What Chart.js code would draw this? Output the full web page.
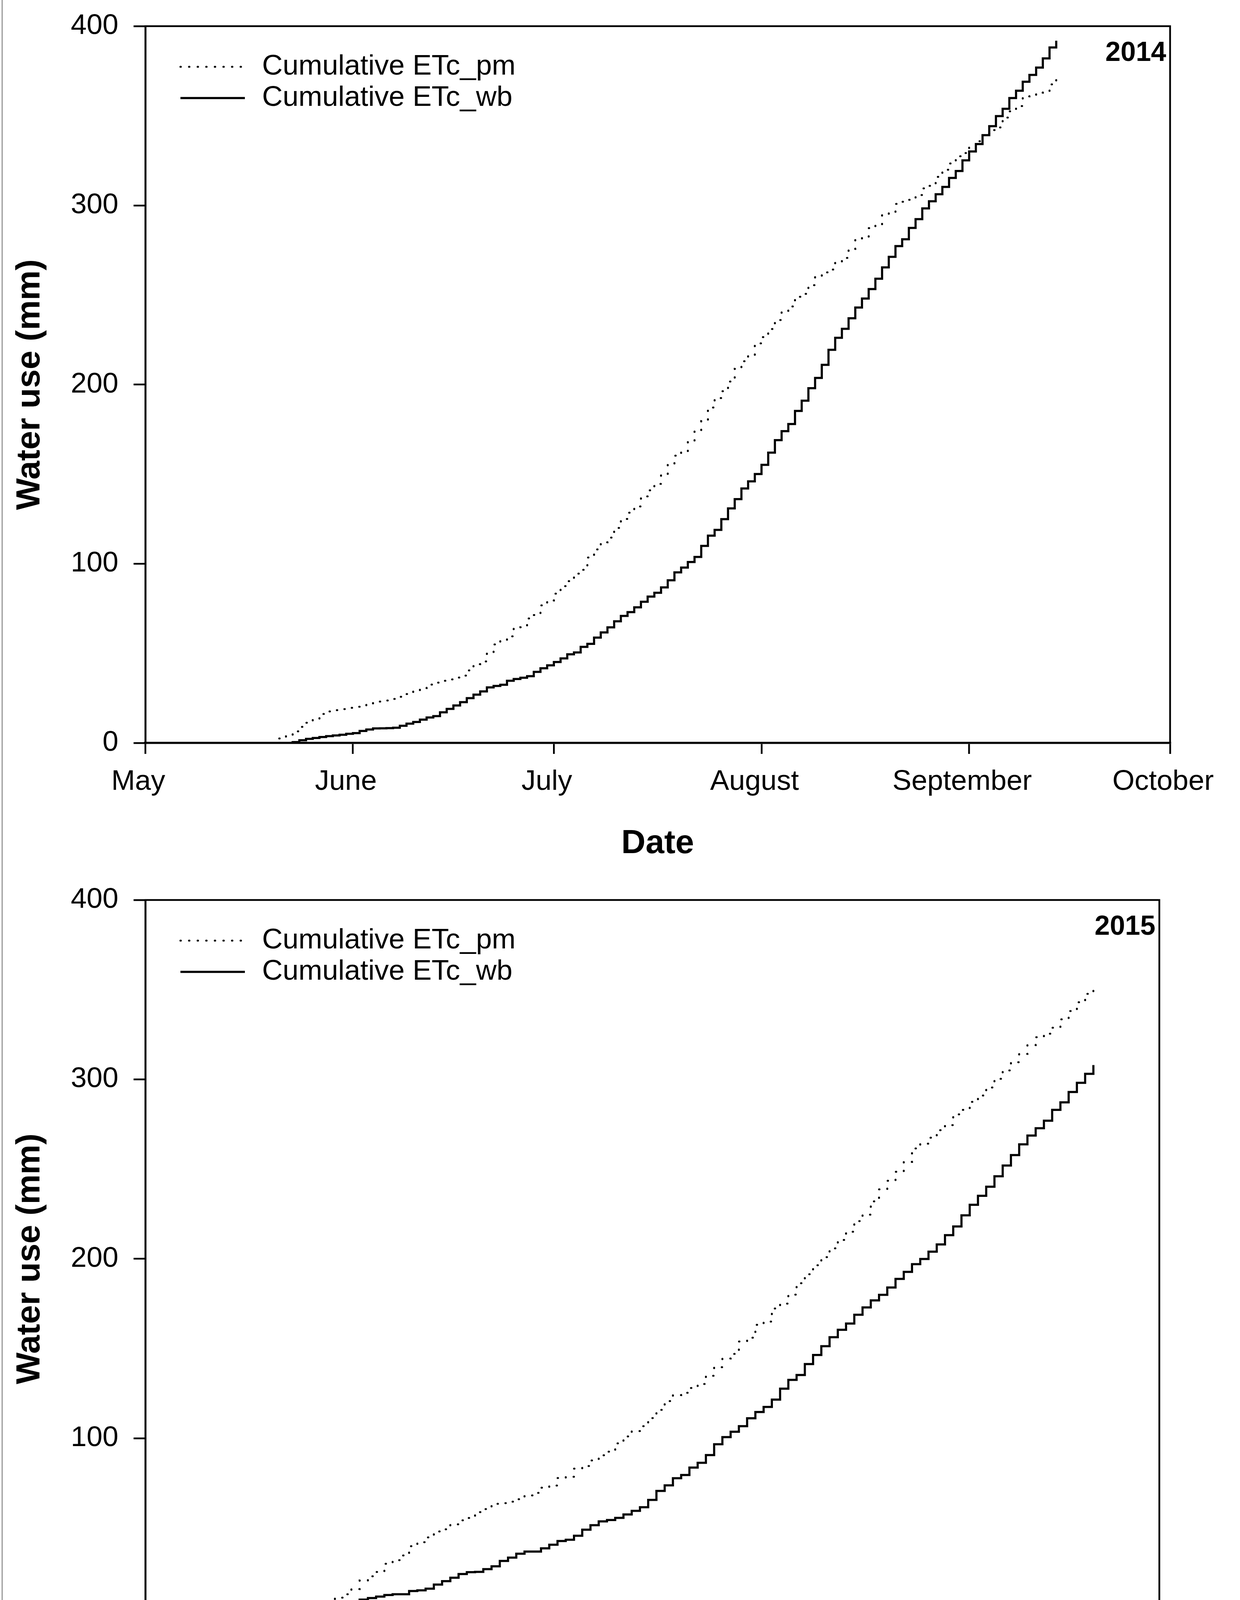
<!DOCTYPE html>
<html><head><meta charset="utf-8">
<script src="https://cdn.jsdelivr.net/npm/chart.js@4.4.1/dist/chart.umd.min.js"></script>
<style>
html,body{margin:0;padding:0;background:#fff;}
body{width:3175px;height:4473px;position:relative;overflow:hidden;}
#c1{position:absolute;left:0;top:0;}
#c2{position:absolute;left:0;top:2240px;}
#edge{position:absolute;left:4px;top:0;width:3px;height:4473px;background:#9a9a9a;}
</style></head><body>
<div id="edge"></div>
<canvas id="c1" width="3175" height="2240"></canvas>
<canvas id="c2" width="3175" height="2233"></canvas>
<script>
// ---- data (x = days since May 1) ----
const monthDays2014 = [0, 31, 61, 92, 123, 153];
const monthLabels2014 = ['May', 'June', 'July', 'August', 'September', 'October'];
const monthDays2015 = [0, 31, 61, 92, 123];
const monthLabels2015 = ['May', 'June', 'July', 'August', 'September'];
const yTicks = [0, 100, 200, 300, 400];
const seriesLabels = ['Cumulative ETc_pm', 'Cumulative ETc_wb'];

const start2014 = 20;
const pm2014 = [
  2.5, 4, 6.5, 9, 11.3, 13.5, 16.2, 17.6, 18.3, 18.9,
  19.6, 20.2, 21, 21.6, 22.4, 23.1, 23.7, 24.6, 25.8, 27.3,
  28.7, 30.6, 32.6, 33.7, 34.7, 35.5, 36.5, 37.6, 40.5, 44,
  45.5, 50.5, 55, 57, 59.5, 63.8, 64.6, 69.5, 71.4, 76.8,
  79.5, 83.3, 87.5, 90.3, 94.5, 96.6, 103.5, 108, 112, 114.6,
  120, 125, 128.5, 132, 137.6, 141, 144.6, 149.8, 155.5, 160.3,
  162.4, 168, 174, 179.6, 187.2, 192.5, 196.3, 201.7, 208.8, 213,
  216.4, 223, 226.5, 231, 236, 241, 243.6, 249, 250.6, 255.5,
  260.6, 262.6, 264.2, 268.7, 270.7, 275.7, 281, 282.2, 287.3, 288.7,
  294.6, 295.8, 300.8, 302, 303.1, 305.8, 309.5, 310.9, 315.9, 319.9,
  323.4, 327.4, 329.2, 333, 335.8, 339.5, 342, 343.5, 349, 352.5,
  355.4, 360.8, 361.7, 362.9, 363.8, 367.5, 370.5
];
const wb2014 = [
  0, 0, 0.5, 1.5, 2.3, 2.8, 3.3, 3.8, 4.2, 4.6,
  5.1, 5.5, 6.7, 7.5, 8.1, 8.2, 8.3, 8.5, 9.6, 10.8,
  11.7, 13, 14.2, 15, 17.1, 19, 20.9, 22.8, 25, 27,
  28.8, 31, 31.8, 32.5, 34.7, 35.7, 36.4, 37.3, 39.7, 41.7,
  43.3, 45.2, 47.2, 49.5, 50.5, 53.6, 55.3, 58.8, 61.7, 64.5,
  67.9, 70.9, 73, 75.7, 78.8, 81.7, 83.8, 86.8, 90.8, 95.2,
  97.9, 101, 103.8, 110, 115.7, 118.9, 124.9, 130.9, 136.1, 142,
  146, 150.1, 155.2, 162, 169, 174, 178, 185.3, 191, 198,
  203.7, 211, 219.4, 226.1, 231.1, 237, 243, 248, 253.3, 259.1,
  265.4, 271.3, 277.3, 281.1, 287.4, 292.3, 298.3, 302.3, 306.2, 310.3,
  315.3, 319.2, 325.1, 330.1, 334.2, 339.2, 344.2, 349.8, 353.9, 359.9,
  364, 369, 372.8, 376.9, 382, 388.1, 391.9
];

const start2015 = 19;
const pm2015 = [
  0, 2, 6.5, 9, 11.1, 13, 15.9, 20.7, 23, 25.4,
  30, 32, 34.6, 39.8, 42, 44.7, 48, 49.2, 52, 54.2,
  55.5, 58.8, 60.5, 63.4, 63.8, 64.6, 66, 68.1, 69.5, 72.4,
  73.6, 77.8, 78.5, 83, 84.5, 87.6, 90.5, 92.5, 97.1, 101,
  104, 106.7, 111.2, 115.8, 120.7, 124, 125.3, 128, 130.2, 134.8,
  139.6, 144.4, 147, 153.9, 156, 163.2, 165, 172.3, 175, 180,
  186.4, 191.4, 196.4, 200.9, 205.8, 210.5, 215.1, 221, 224.6, 232,
  238.7, 243.5, 248.5, 254, 261.5, 264.2, 267.5, 271.7, 274.5, 280.5,
  283, 287.5, 291, 295.5, 300.3, 305, 309.6, 314.2, 319.1, 323.5,
  325.5, 328.8, 333.5, 338.1, 343, 347.7, 352.4
];
const wb2015 = [
  0.5, 1.2, 2.3, 7.3, 7.3, 7.3, 8.1, 10, 10.9, 11.7,
  12.6, 13, 13, 14.8, 15.2, 16.1, 18.4, 20.3, 22.2, 24.3,
  25.3, 25.5, 27, 28.6, 31.6, 33.4, 35.6, 36.8, 36.8, 38.6,
  40.6, 42.7, 43.4, 45.6, 49, 51.5, 53.6, 54.4, 55.6, 57.5,
  59.5, 61.5, 65.6, 70.6, 73.7, 77.7, 79.5, 83.6, 86.3, 90.6,
  96.6, 100.6, 103.6, 106.7, 111.1, 114.6, 117.4, 121.5, 127.6, 132.5,
  135.2, 141.3, 146.4, 151.3, 156.3, 160.4, 163.9, 168.8, 172.9, 176.8,
  179.9, 184, 188.8, 192.7, 197, 199.9, 204, 208, 213.2, 218,
  224.2, 230.1, 235.1, 240.2, 246, 252, 257.8, 263.8, 268.7, 272.8,
  277, 283, 287.2, 293, 298.1, 303.1, 308
];

// ---- rendering ----
const FONT = "'Liberation Sans', Arial, Helvetica, sans-serif";

function toPoints(start, vals) { return vals.map((v, i) => ({ x: start + i, y: v })); }

const decor = {
  id: 'decor',
  afterDraw(chart, args, opts) {
    const { ctx, chartArea: a } = chart;
    ctx.save();
    // top and right frame
    ctx.strokeStyle = '#000'; ctx.lineWidth = 4.5; ctx.setLineDash([]); ctx.lineCap = 'square';
    ctx.beginPath(); ctx.moveTo(a.left, a.top); ctx.lineTo(a.right, a.top); ctx.lineTo(a.right, a.bottom); ctx.stroke();
    // legend
    chart.data.datasets.forEach((ds, i) => {
      const y = a.top + 104 + i * 80;
      ctx.setLineDash(ds.borderDash || []);
      ctx.lineCap = ds.borderCapStyle || 'butt';
      ctx.lineWidth = ds.borderWidth; ctx.strokeStyle = ds.borderColor;
      ctx.beginPath(); ctx.moveTo(a.left + 90, y); ctx.lineTo(a.left + (i === 0 ? 246 : 255), y); ctx.stroke();
      ctx.setLineDash([]);
      ctx.fillStyle = '#000'; ctx.font = '73px ' + FONT; ctx.textBaseline = 'middle'; ctx.textAlign = 'left';
      ctx.fillText(ds.label, a.left + 299, y);
    });
    ctx.font = 'bold 70px ' + FONT; ctx.textAlign = 'right'; ctx.textBaseline = 'alphabetic'; ctx.fillStyle = '#000';
    ctx.fillText(opts.year, a.right - 10, a.top + 89);
    ctx.restore();
  }
};

function makeChart(canvas, cfg) {
  return new Chart(canvas, {
    type: 'line',
    data: {
      datasets: [
        { label: seriesLabels[0], data: toPoints(cfg.start, cfg.pm), borderColor: '#000', borderWidth: 5,
          borderDash: [1, 21], borderCapStyle: 'round', stepped: true, pointRadius: 0, fill: false },
        { label: seriesLabels[1], data: toPoints(cfg.start, cfg.wb), borderColor: '#000', borderWidth: 5.5,
          borderJoinStyle: 'miter', stepped: true, pointRadius: 0, fill: false }
      ]
    },
    options: {
      responsive: false, devicePixelRatio: 1, animation: false,
      layout: { padding: { left: 0, top: cfg.top, right: 179, bottom: 0 } },
      plugins: { legend: { display: false }, tooltip: { enabled: false }, decor: { year: cfg.year } },
      scales: {
        x: {
          type: 'linear', min: 0, max: cfg.max,
          afterBuildTicks: s => { s.ticks = cfg.monthDays.map(v => ({ value: v })); },
          afterFit: s => { s.height = cfg.xh; },
          grid: { drawOnChartArea: false, drawTicks: true, tickLength: 28, color: '#000', lineWidth: 4.5 },
          border: { display: true, color: '#000', width: 5.5 },
          ticks: { autoSkip: false, maxRotation: 0, minRotation: 0, padding: 28, labelOffset: -18, color: '#000',
                   font: { family: FONT, size: 73 },
                   callback: v => cfg.monthLabels[cfg.monthDays.indexOf(v)] },
          title: { display: true, text: 'Date', color: '#000', font: { family: FONT, size: 86, weight: 'bold' },
                   padding: { top: 0, bottom: cfg.tpad } }
        },
        y: {
          min: 0, max: 400,
          afterBuildTicks: s => { s.ticks = yTicks.map(v => ({ value: v })); },
          afterFit: s => { s.width = 372; s.paddingTop = 10; s.paddingBottom = 10; },
          grid: { drawOnChartArea: false, drawTicks: true, tickLength: 30, color: '#000', lineWidth: 4.5 },
          border: { display: true, color: '#000', width: 5 },
          ticks: { padding: 39, color: '#000', font: { family: FONT, size: 73 } },
          title: { display: true, text: 'Water use (mm)', color: '#000', font: { family: FONT, size: 86, weight: 'bold' },
                   padding: { top: 26, bottom: 0 } }
        }
      }
    },
    plugins: [decor]
  });
}

makeChart(document.getElementById('c1'), {
  start: start2014, pm: pm2014, wb: wb2014, max: 153, monthDays: monthDays2014, monthLabels: monthLabels2014,
  top: 67, xh: 338, tpad: 28, year: '2014'
});
makeChart(document.getElementById('c2'), {
  start: start2015, pm: pm2015, wb: wb2015, max: 123, monthDays: monthDays2015, monthLabels: monthLabels2015,
  top: 64, xh: 332, tpad: 20, year: '2015'
});
</script>
</body></html>
